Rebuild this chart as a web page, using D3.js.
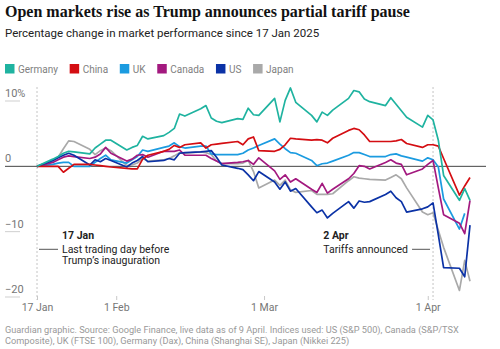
<!DOCTYPE html>
<html>
<head>
<meta charset="utf-8">
<script src="https://cdn.jsdelivr.net/npm/d3@7"></script>
<style>
  body { margin: 0; background: #fff; }
  text { font-family: Roboto, "Noto Sans", sans-serif; }
</style>
</head>
<body>
<div id="chart"></div>
<script>
// Trading days shown on the chart
var dates = [
  "2025-01-17", "2025-01-20", "2025-01-21", "2025-01-22", "2025-01-23", "2025-01-24",
  "2025-01-27", "2025-01-28", "2025-01-29", "2025-01-30", "2025-01-31",
  "2025-02-03", "2025-02-04", "2025-02-05", "2025-02-06", "2025-02-07",
  "2025-02-10", "2025-02-11", "2025-02-12", "2025-02-13", "2025-02-14",
  "2025-02-17", "2025-02-18", "2025-02-19", "2025-02-20", "2025-02-21",
  "2025-02-24", "2025-02-25", "2025-02-26", "2025-02-27", "2025-02-28",
  "2025-03-03", "2025-03-04", "2025-03-05", "2025-03-06", "2025-03-07",
  "2025-03-10", "2025-03-11", "2025-03-12", "2025-03-13", "2025-03-14",
  "2025-03-17", "2025-03-18", "2025-03-19", "2025-03-20", "2025-03-21",
  "2025-03-24", "2025-03-25", "2025-03-26", "2025-03-27", "2025-03-28",
  "2025-03-31", "2025-04-01", "2025-04-02", "2025-04-03", "2025-04-04",
  "2025-04-07", "2025-04-08", "2025-04-09"
];

// % change since 17 Jan
var germany = [0, 1.1, 1.5, 2.0, 2.3, 2.2, 1.9, 2.8, 3.4, 4.0, 4.0,
  2.5, 2.9, 3.2, 4.6, 4.2, 4.7, 5.2, 5.8, 8.0, 7.7, 8.8, 9.3, 7.4, 6.9, 6.7, 7.3, 7.2, 8.9, 7.9, 7.8,
  10.4, 6.8, 10.1, 12.0, 9.8, 7.8, 6.8, 8.3, 7.8, 8.6, 10.4, 11.6, 11.4, 10.3, 9.9, 9.3, 10.5, 9.5, 8.5, 7.5, 6.0,
  7.8, 7.1, 4.0, -1.4, -5.2, -3.4, -5.2];
var china = [0, 0, 0, -0.9, -0.3, 0.3, 0.3, 0.2, 0.1, 0.0, -0.1,
  -0.3, -0.4, -0.4, 1.1, 1.7, 2.3, 2.6, 3.2, 2.9, 3.3, 3.6, 2.8, 3.3, 3.4, 3.5, 3.8, 3.3, 4.2, 4.5, 2.4,
  2.3, 2.6, 3.3, 4.3, 4.2, 4.0, 4.1, 4.0, 3.6, 4.3, 5.5, 5.8, 5.6, 4.8, 3.8, 3.8, 3.8, 3.9, 4.1, 3.5, 2.9,
  3.3, 3.3, 3.1, 1.2, -4.4, -3.0, -1.7];
var uk = [0, 0.3, 0.5, 0.6, 0.6, 0.0, 0.0, 0.6, 1.2, 1.7, 1.0,
  0.5, 1.0, 1.5, 2.5, 2.3, 2.9, 3.1, 3.6, 3.0, 2.8, 3.1, 3.1, 1.9, 1.8, 1.8, 1.8, 2.0, 2.5, 2.8, 3.2,
  4.2, 3.4, 2.7, 2.1, 2.0, 0.9, 0.1, 0.4, 0.5, 0.8, 1.7, 2.1, 2.1, 1.8, 1.5, 1.5, 1.8, 1.9, 1.6, 1.4, 0.8,
  1.3, 1.0, -0.1, -5.0, -9.6, -7.2, null];
var canada = [0, 0.6, 1.0, 1.4, 1.6, 1.5, 1.2, 1.4, 1.9, 2.9, 2.0,
  0.8, 1.1, 1.7, 1.8, 1.4, 2.3, 2.3, 2.3, 2.5, 1.7, 1.7, 1.7, 1.2, 0.8, 0.4, 0.6, 0.7, 0.9, 0.3, 1.3,
  -0.7, -2.0, -1.3, -2.4, -1.9, -3.5, -4.0, -2.6, -4.1, -3.5, -1.9, -1.1, 0.1, 0.0, -0.4, 0.6, 1.0, 0.5, 0.3, -1.3, -0.4,
  0.3, 0.9, -3.3, -7.4, -8.7, -10.3, -5.2];
var us = [0, 0.9, 1.3, 1.7, 2.0, 1.7, 0.2, 1.0, 0.7, 1.2, 0.9,
  -0.1, 0.5, 0.9, 1.5, 0.7, 0.9, 1.2, 1.0, 2.0, 2.1, 2.2, 2.3, 2.4, 1.4, 0.2, -0.3, -0.5, -1.3, -2.2, -0.8,
  -2.4, -3.5, -2.4, -3.8, -3.4, -6.2, -7.1, -6.7, -7.9, -7.2, -5.4, -6.4, -5.3, -5.5, -5.4, -4.3, -3.8, -4.8, -5.4, -7.0, -6.5,
  -6.2, -5.6, -10.5, -15.5, -15.6, -16.9, -9.0];
var japan = [0, 0.8, 1.4, 2.7, 3.9, 3.8, 2.6, 1.8, 2.4, 2.8, 2.4,
  0.1, 0.2, 0.5, 1.2, 0.8, 1.0, 1.2, 1.6, 2.1, 2.0, 2.2, 2.1, 1.8, 0.8, 0.4, 0.4, 0.5, 0.9, -0.8, -3.3,
  -2.1, -2.9, -2.1, -3.6, -4.0, -3.7, -4.3, -4.3, -4.3, -4.2, -2.2, -1.6, -1.8, -1.9, -2.0, -2.1, -1.7, -1.3, -1.9, -3.3, -7.0,
  -7.4, -7.1, -9.8, -12.4, -19.0, -14.4, -17.6];

var seriesNames = ["Germany", "China", "UK", "Canada", "US", "Japan"];
var yTicks = [10, 0, -10, -20];
var yTickLabels = ["10%", "0", "\u221210", "\u221220"];
var xTicks = ["2025-01-17", "2025-02-01", "2025-03-01", "2025-04-01"];
var xTickLabels = ["17 Jan", "1 Feb", "1 Mar", "1 Apr"];

var colors = {
  Germany: "#1fb3a0",
  China: "#d40d12",
  UK: "#1b9be0",
  Canada: "#a3197f",
  US: "#0b32a6",
  Japan: "#a9a9a9"
};

var svgWidth = 500;
var svgHeight = 349;

var parseDate = d3.timeParse("%Y-%m-%d");
var valuesByName = { Germany: germany, China: china, UK: uk, Canada: canada, US: us, Japan: japan };

var series = seriesNames.map(function(name) {
  return {
    name: name,
    values: dates.map(function(d, i) {
      return { date: parseDate(d), value: valuesByName[name][i] };
    })
  };
});

var svg = d3.select("#chart")
  .append("svg")
  .attr("width", svgWidth)
  .attr("height", svgHeight);

// Scales
var x = d3.scaleTime()
  .domain([parseDate("2025-01-17"), parseDate("2025-04-09")])
  .range([37, 470]);

var y = d3.scaleLinear()
  .domain([-20, 10])
  .range([297, 101]);

// Headline and standfirst
svg.append("text")
  .attr("x", 5)
  .attr("y", 17)
  .style("font-family", "'Liberation Serif', serif")
  .style("font-weight", "bold")
  .style("font-size", "16px")
  .style("fill", "#121212")
  .text("Open markets rise as Trump announces partial tariff pause");

svg.append("text")
  .attr("x", 5)
  .attr("y", 37)
  .style("font-size", "11.5px")
  .style("fill", "#222")
  .text("Percentage change in market performance since 17 Jan 2025");

// Legend
var legendX = 5;
seriesNames.forEach(function(name) {
  svg.append("rect")
    .attr("x", legendX)
    .attr("y", 64)
    .attr("width", 9.5)
    .attr("height", 9.5)
    .attr("fill", colors[name]);
  var label = svg.append("text")
    .attr("x", legendX + 13)
    .attr("y", 72.7)
    .style("font-size", "10px")
    .style("fill", "#808080")
    .text(name);
  legendX += 13 + label.node().getComputedTextLength() + 11.7;
});

// Y axis labels with short stubs
var yAxis = svg.append("g");
yTicks.forEach(function(v, i) {
  yAxis.append("line")
    .attr("x1", 5).attr("x2", 20)
    .attr("y1", y(v)).attr("y2", y(v))
    .attr("stroke", v === 0 ? "none" : "#cfcfcf");
  yAxis.append("text")
    .attr("x", 5)
    .attr("y", y(v) - 4)
    .style("font-size", "11px")
    .style("fill", "#767676")
    .text(yTickLabels[i]);
});

// X axis
var bottomAxis = d3.axisBottom(x)
  .tickValues(xTicks.map(parseDate))
  .tickSize(4)
  .tickPadding(4)
  .tickFormat(function(d, i) { return xTickLabels[i]; });

var xAxis = svg.append("g")
  .attr("transform", "translate(0, 296)")
  .call(bottomAxis);
xAxis.select(".domain").remove();
xAxis.selectAll(".tick line").attr("stroke", "#c8c8c8");
xAxis.selectAll(".tick text")
  .style("font-family", "Roboto, sans-serif")
  .style("font-size", "10.5px")
  .style("fill", "#767676");

// Dotted markers for 17 Jan and 2 Apr
["2025-01-17", "2025-04-02"].forEach(function(d) {
  svg.append("line")
    .attr("x1", x(parseDate(d))).attr("x2", x(parseDate(d)))
    .attr("y1", 87).attr("y2", 300)
    .attr("stroke", "#c4c4c4")
    .attr("stroke-dasharray", "2,2");
});

// Zero line
svg.append("line")
  .attr("x1", 5).attr("x2", 486)
  .attr("y1", y(0)).attr("y2", y(0))
  .attr("stroke", "#444")
  .attr("stroke-width", 1);

// Lines
var line = d3.line()
  .defined(function(d) { return d.value !== null; })
  .x(function(d) { return x(d.date); })
  .y(function(d) { return y(d.value); });

var drawOrder = ["Japan", "UK", "Canada", "US", "China", "Germany"];
drawOrder.forEach(function(name) {
  var s = series.find(function(d) { return d.name === name; });
  svg.append("path")
    .datum(s.values)
    .attr("fill", "none")
    .attr("stroke", colors[name])
    .attr("stroke-width", 1.7)
    .attr("stroke-linejoin", "round")
    .attr("d", line);
});

// Annotations
function note(xPos, yPos, str, bold, anchor) {
  return svg.append("text")
    .attr("x", xPos)
    .attr("y", yPos)
    .attr("text-anchor", anchor || "start")
    .style("font-size", "10.5px")
    .style("font-weight", bold ? "bold" : "normal")
    .style("fill", "#222")
    .text(str);
}

var janX = x(parseDate("2025-01-17"));
svg.append("line")
  .attr("x1", janX + 2).attr("x2", janX + 21)
  .attr("y1", 249.3).attr("y2", 249.3)
  .attr("stroke", "#555");
note(janX + 25, 239, "17 Jan", true);
note(janX + 25, 252.6, "Last trading day before");
note(janX + 25, 264, "Trump\u2019s inauguration");

var aprX = x(parseDate("2025-04-02"));
svg.append("line")
  .attr("x1", aprX - 21).attr("x2", aprX - 3)
  .attr("y1", 249.3).attr("y2", 249.3)
  .attr("stroke", "#555");
var aprLine = note(aprX - 25, 252.6, "Tariffs announced", false, "end");
var aprStart = aprX - 25 - aprLine.node().getComputedTextLength();
note(aprStart, 239, "2 Apr", true);

// Footer
svg.append("text")
  .attr("x", 5).attr("y", 332.7)
  .style("font-size", "9.2px")
  .style("fill", "#999")
  .text("Guardian graphic. Source: Google Finance, live data as of 9 April. Indices used: US (S&P 500), Canada (S&P/TSX");
svg.append("text")
  .attr("x", 5).attr("y", 344)
  .style("font-size", "9.2px")
  .style("fill", "#999")
  .text("Composite), UK (FTSE 100), Germany (Dax), China (Shanghai SE), Japan (Nikkei 225)");
</script>
</body>
</html>
